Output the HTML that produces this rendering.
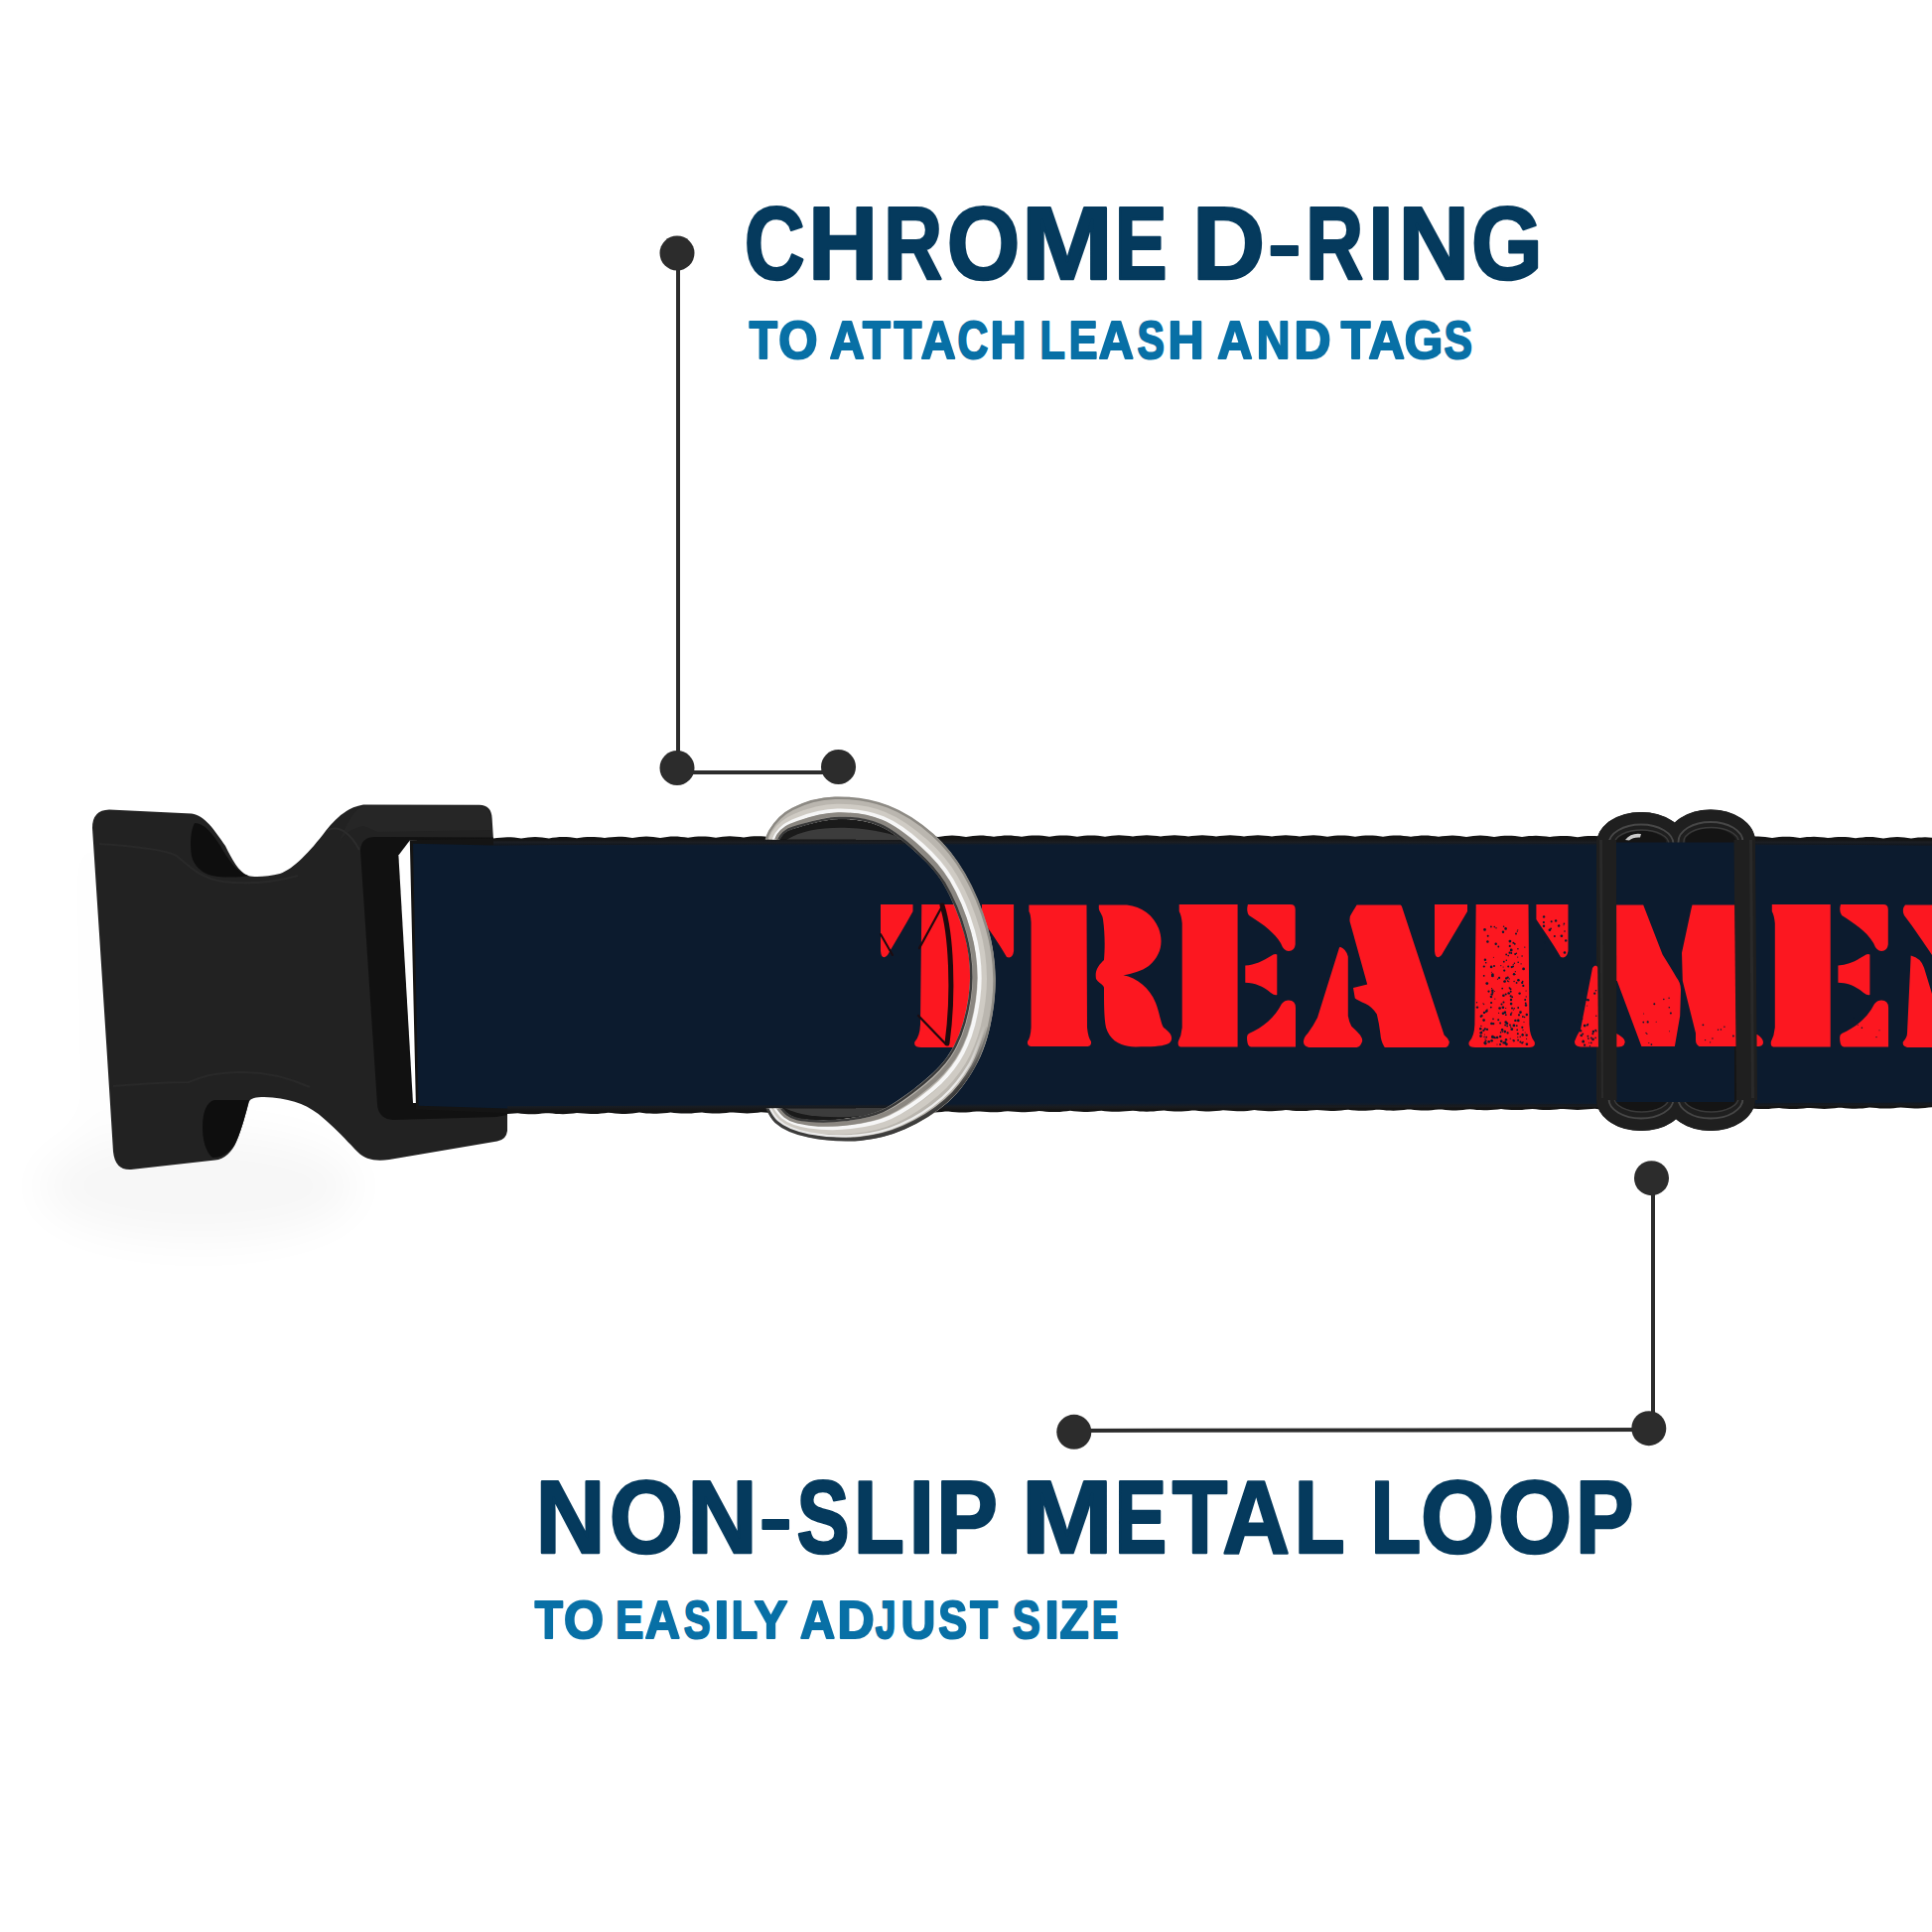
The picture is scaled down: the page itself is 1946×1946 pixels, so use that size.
<!DOCTYPE html>
<html>
<head>
<meta charset="utf-8">
<style>
html,body{margin:0;padding:0;background:#ffffff;}
body{width:1946px;height:1946px;overflow:hidden;position:relative;}
svg{position:absolute;left:0;top:0;display:block;}
</style>
</head>
<body>
<svg width="1946" height="1946" viewBox="0 0 1946 1946">
<!-- SHADOW -->
<defs>
  <filter id="blur18" x="-60%" y="-60%" width="220%" height="220%"><feGaussianBlur stdDeviation="22"/></filter>
</defs>
<g filter="url(#blur18)" opacity="0.035">
  <ellipse cx="200" cy="1195" rx="160" ry="55" fill="#000"/>
  <path d="M 85 840 L 100 840 L 115 1170 L 95 1170 Z" fill="#000" opacity="0.5"/>
</g>
<!-- BUCKLE -->
<g id="buckle">
  <path fill="#222222" d="M 93 834 Q 93 816 110 815.6 L 193 819.5 C 206 821 216 836 227 852 C 234 866 240 878 250 882 C 256 884 270 883 282 880 C 296 875 312 858 328 837 C 338 824 350 813 366 810.5 L 483 810.7 Q 495 811 495.6 824 L 497 846 L 511 1122 L 511 1139 Q 510 1148 500.8 1149.4 L 392 1168 C 378 1170 368 1168 360 1160 C 350 1150 338 1136 320.7 1122 C 306 1111 290 1106 266 1105 C 258 1105 252 1106 250.8 1110 C 248 1120 244 1136 238 1150 C 234 1160 226 1168 216.6 1168.6 L 132 1178 Q 116 1179 114 1160 Q 104 1000 93 834 Z"/>
  <!-- subtle lighter ridge on top bar -->
  <path fill="#282828" d="M 366 812 L 483 812 Q 493 813 494 824 L 495 836 L 380 838 Q 372 834 366 832 C 352 835 345 842 340 850 C 350 830 356 815 366 812 Z" opacity="0.7"/>
  <path d="M 100 850 C 130 852 165 855 178 862 C 190 872 200 884 225 888 C 250 891 275 889 300 882" fill="none" stroke="#292929" stroke-width="2"/>
  <path d="M 114 1094 C 140 1092 175 1090 190 1090 C 200 1086 210 1081 240 1080 C 265 1079 290 1085 312 1095" fill="none" stroke="#292929" stroke-width="2"/>
  <path d="M 330 836 C 345 830 356 845 362 856" fill="none" stroke="#2c2c2c" stroke-width="2"/>
  <!-- top hole -->
  <path fill="#0e0e0e" d="M 196 829 C 206 829 214 840 222 852 C 230 866 238 878 250 882 C 240 884 225 884 214 882 C 204 880 195 872 193 862 C 191 850 192 836 196 829 Z"/>
  <!-- bottom hole -->
  <path fill="#0e0e0e" d="M 250.8 1108 C 248 1120 244 1136 238 1150 C 234 1158 226 1166 214 1166 C 207 1160 204 1148 204 1135 C 204 1120 208 1110 216 1108 Z"/>
  <!-- inner frame dark -->
  <path fill="#111111" d="M 363 856 Q 364 843 378 843 L 497 843.5 L 511 1123 L 500 1125 L 396 1128 Q 381 1127 380 1112 Z"/>
  <!-- slit (background) -->
  <path fill="#ffffff" d="M 401.4 861.4 L 412.8 846.4 L 420 846.4 L 422 1111 L 416 1111 Z"/>
</g>
<!-- STRAP -->
<defs>
  <linearGradient id="gtop" x1="0" y1="0" x2="0" y2="1">
    <stop offset="0" stop-color="#141414" stop-opacity="1"/>
    <stop offset="0.45" stop-color="#1c1f24" stop-opacity="0.9"/>
    <stop offset="1" stop-color="#0c1b2e" stop-opacity="0"/>
  </linearGradient>
  <linearGradient id="gbot" x1="0" y1="0" x2="0" y2="1">
    <stop offset="0" stop-color="#0c1b2e" stop-opacity="0"/>
    <stop offset="0.55" stop-color="#1a1d22" stop-opacity="0.9"/>
    <stop offset="1" stop-color="#141414" stop-opacity="1"/>
  </linearGradient>
</defs>
<g id="strap">
  <path fill="#141414" d="M 412.8 846.2 L 497 844.6 L 497.0 844.6 L 500.5 844.1 L 504.0 843.7 L 507.5 843.4 L 511.0 843.2 L 514.5 843.3 L 518.0 843.6 L 521.5 844.0 L 525.0 844.5 L 528.5 844.0 L 532.0 843.5 L 535.5 843.2 L 539.0 843.1 L 542.5 843.2 L 546.0 843.5 L 549.5 843.9 L 553.0 844.4 L 556.5 843.8 L 560.0 843.4 L 563.5 843.1 L 567.0 843.0 L 570.5 843.1 L 574.0 843.3 L 577.5 843.8 L 581.0 844.2 L 584.5 843.7 L 588.0 843.3 L 591.5 843.0 L 595.0 842.9 L 598.5 843.0 L 602.0 843.2 L 605.5 843.6 L 609.0 844.1 L 612.5 843.6 L 616.0 843.2 L 619.5 842.9 L 623.0 842.8 L 626.5 842.8 L 630.0 843.1 L 633.5 843.5 L 637.0 844.0 L 640.5 843.5 L 644.0 843.1 L 647.5 842.8 L 651.0 842.6 L 654.5 842.7 L 658.0 843.0 L 661.5 843.4 L 665.0 843.9 L 668.5 843.4 L 672.0 842.9 L 675.5 842.6 L 679.0 842.5 L 682.5 842.6 L 686.0 842.9 L 689.5 843.3 L 693.0 843.8 L 696.5 843.3 L 700.0 842.8 L 703.5 842.5 L 707.0 842.4 L 710.5 842.5 L 714.0 842.8 L 717.5 843.2 L 721.0 843.7 L 724.5 843.2 L 728.0 842.7 L 731.5 842.4 L 735.0 842.3 L 738.5 842.4 L 742.0 842.7 L 745.5 843.1 L 749.0 843.6 L 752.5 843.1 L 756.0 842.6 L 759.5 842.3 L 763.0 842.2 L 766.5 842.3 L 770.0 842.6 L 773.5 843.0 L 777.0 843.5 L 780.5 842.9 L 784.0 842.5 L 787.5 842.2 L 791.0 842.1 L 794.5 842.2 L 798.0 842.5 L 801.5 842.9 L 805.0 843.4 L 808.5 842.9 L 812.0 842.4 L 815.5 842.1 L 819.0 842.0 L 822.5 842.1 L 826.0 842.4 L 829.5 842.8 L 833.0 843.3 L 836.5 842.8 L 840.0 842.3 L 843.5 842.0 L 847.0 841.9 L 850.5 842.0 L 854.0 842.3 L 857.5 842.7 L 861.0 843.2 L 864.5 842.7 L 868.0 842.2 L 871.5 841.9 L 875.0 841.8 L 878.5 841.9 L 882.0 842.2 L 885.5 842.6 L 889.0 843.1 L 892.5 842.6 L 896.0 842.2 L 899.5 841.9 L 903.0 841.8 L 906.5 841.8 L 910.0 842.1 L 913.5 842.5 L 917.0 843.0 L 920.5 842.5 L 924.0 842.1 L 927.5 841.8 L 931.0 841.7 L 934.5 841.8 L 938.0 842.0 L 941.5 842.5 L 945.0 842.9 L 948.5 842.4 L 952.0 842.0 L 955.5 841.7 L 959.0 841.6 L 962.5 841.7 L 966.0 842.0 L 969.5 842.4 L 973.0 842.9 L 976.5 842.4 L 980.0 841.9 L 983.5 841.7 L 987.0 841.6 L 990.5 841.6 L 994.0 841.9 L 997.5 842.3 L 1001.0 842.8 L 1004.5 842.3 L 1008.0 841.9 L 1011.5 841.6 L 1015.0 841.5 L 1018.5 841.6 L 1022.0 841.9 L 1025.5 842.3 L 1029.0 842.8 L 1032.5 842.3 L 1036.0 841.8 L 1039.5 841.6 L 1043.0 841.4 L 1046.5 841.5 L 1050.0 841.8 L 1053.5 842.2 L 1057.0 842.7 L 1060.5 842.2 L 1064.0 841.8 L 1067.5 841.5 L 1071.0 841.4 L 1074.5 841.5 L 1078.0 841.8 L 1081.5 842.2 L 1085.0 842.7 L 1088.5 842.2 L 1092.0 841.8 L 1095.5 841.5 L 1099.0 841.4 L 1102.5 841.5 L 1106.0 841.7 L 1109.5 842.2 L 1113.0 842.7 L 1116.5 842.2 L 1120.0 841.7 L 1123.5 841.4 L 1127.0 841.3 L 1130.5 841.4 L 1134.0 841.7 L 1137.5 842.1 L 1141.0 842.6 L 1144.5 842.1 L 1148.0 841.7 L 1151.5 841.4 L 1155.0 841.3 L 1158.5 841.4 L 1162.0 841.7 L 1165.5 842.1 L 1169.0 842.6 L 1172.5 842.1 L 1176.0 841.7 L 1179.5 841.4 L 1183.0 841.3 L 1186.5 841.4 L 1190.0 841.7 L 1193.5 842.1 L 1197.0 842.6 L 1200.5 842.1 L 1204.0 841.7 L 1207.5 841.4 L 1211.0 841.3 L 1214.5 841.4 L 1218.0 841.7 L 1221.5 842.1 L 1225.0 842.6 L 1228.5 842.1 L 1232.0 841.7 L 1235.5 841.4 L 1239.0 841.3 L 1242.5 841.4 L 1246.0 841.7 L 1249.5 842.1 L 1253.0 842.6 L 1256.5 842.1 L 1260.0 841.7 L 1263.5 841.4 L 1267.0 841.3 L 1270.5 841.4 L 1274.0 841.7 L 1277.5 842.1 L 1281.0 842.6 L 1284.5 842.1 L 1288.0 841.7 L 1291.5 841.4 L 1295.0 841.3 L 1298.5 841.4 L 1302.0 841.7 L 1305.5 842.1 L 1309.0 842.6 L 1312.5 842.1 L 1316.0 841.7 L 1319.5 841.4 L 1323.0 841.3 L 1326.5 841.5 L 1330.0 841.7 L 1333.5 842.2 L 1337.0 842.7 L 1340.5 842.2 L 1344.0 841.8 L 1347.5 841.5 L 1351.0 841.4 L 1354.5 841.5 L 1358.0 841.8 L 1361.5 842.2 L 1365.0 842.7 L 1368.5 842.2 L 1372.0 841.8 L 1375.5 841.5 L 1379.0 841.4 L 1382.5 841.5 L 1386.0 841.8 L 1389.5 842.2 L 1393.0 842.7 L 1396.5 842.2 L 1400.0 841.8 L 1403.5 841.6 L 1407.0 841.5 L 1410.5 841.6 L 1414.0 841.9 L 1417.5 842.3 L 1421.0 842.8 L 1424.5 842.3 L 1428.0 841.9 L 1431.5 841.6 L 1435.0 841.5 L 1438.5 841.6 L 1442.0 841.9 L 1445.5 842.3 L 1449.0 842.8 L 1452.5 842.3 L 1456.0 841.9 L 1459.5 841.7 L 1463.0 841.6 L 1466.5 841.7 L 1470.0 842.0 L 1473.5 842.4 L 1477.0 842.9 L 1480.5 842.4 L 1484.0 842.0 L 1487.5 841.7 L 1491.0 841.6 L 1494.5 841.7 L 1498.0 842.0 L 1501.5 842.5 L 1505.0 843.0 L 1508.5 842.5 L 1512.0 842.1 L 1515.5 841.8 L 1519.0 841.7 L 1522.5 841.8 L 1526.0 842.1 L 1529.5 842.5 L 1533.0 843.0 L 1536.5 842.6 L 1540.0 842.1 L 1543.5 841.9 L 1547.0 841.8 L 1550.5 841.9 L 1554.0 842.2 L 1557.5 842.6 L 1561.0 843.1 L 1564.5 842.6 L 1568.0 842.2 L 1571.5 841.9 L 1575.0 841.9 L 1578.5 842.0 L 1582.0 842.3 L 1585.5 842.7 L 1589.0 843.2 L 1592.5 842.7 L 1596.0 842.3 L 1599.5 842.0 L 1603.0 841.9 L 1606.5 842.1 L 1610.0 842.3 L 1613.5 842.8 L 1617.0 843.3 L 1620.5 842.8 L 1624.0 842.4 L 1627.5 842.1 L 1631.0 842.0 L 1634.5 842.1 L 1638.0 842.4 L 1641.5 842.9 L 1645.0 843.4 L 1648.5 842.9 L 1652.0 842.5 L 1655.5 842.2 L 1659.0 842.1 L 1662.5 842.2 L 1666.0 842.5 L 1669.5 843.0 L 1673.0 843.5 L 1676.5 843.0 L 1680.0 842.6 L 1683.5 842.3 L 1687.0 842.2 L 1690.5 842.3 L 1694.0 842.6 L 1697.5 843.1 L 1701.0 843.6 L 1704.5 843.1 L 1708.0 842.7 L 1711.5 842.4 L 1715.0 842.3 L 1718.5 842.5 L 1722.0 842.7 L 1725.5 843.2 L 1729.0 843.7 L 1732.5 843.2 L 1736.0 842.8 L 1739.5 842.5 L 1743.0 842.4 L 1746.5 842.6 L 1750.0 842.9 L 1753.5 843.3 L 1757.0 843.8 L 1760.5 843.3 L 1764.0 842.9 L 1767.5 842.6 L 1771.0 842.6 L 1774.5 842.7 L 1778.0 843.0 L 1781.5 843.4 L 1785.0 843.9 L 1788.5 843.4 L 1792.0 843.0 L 1795.5 842.8 L 1799.0 842.7 L 1802.5 842.8 L 1806.0 843.1 L 1809.5 843.5 L 1813.0 844.0 L 1816.5 843.5 L 1820.0 843.1 L 1823.5 842.9 L 1827.0 842.8 L 1830.5 842.9 L 1834.0 843.2 L 1837.5 843.6 L 1841.0 844.1 L 1844.5 843.7 L 1848.0 843.3 L 1851.5 843.0 L 1855.0 842.9 L 1858.5 843.0 L 1862.0 843.3 L 1865.5 843.8 L 1869.0 844.3 L 1872.5 843.8 L 1876.0 843.4 L 1879.5 843.1 L 1883.0 843.0 L 1886.5 843.1 L 1890.0 843.4 L 1893.5 843.9 L 1897.0 844.4 L 1900.5 843.9 L 1904.0 843.5 L 1907.5 843.2 L 1911.0 843.1 L 1914.5 843.3 L 1918.0 843.6 L 1921.5 844.0 L 1925.0 844.5 L 1928.5 844.0 L 1932.0 843.6 L 1935.5 843.4 L 1939.0 843.3 L 1942.5 843.4 L 1946.0 843.7 L 1946.0 844.6 L 1946.0 1115.2 L 1942.5 1115.6 L 1939.0 1116.0 L 1935.5 1116.3 L 1932.0 1116.4 L 1928.5 1116.4 L 1925.0 1116.3 L 1921.5 1116.0 L 1918.0 1115.7 L 1914.5 1115.4 L 1911.0 1115.8 L 1907.5 1116.2 L 1904.0 1116.5 L 1900.5 1116.6 L 1897.0 1116.6 L 1893.5 1116.4 L 1890.0 1116.1 L 1886.5 1115.7 L 1883.0 1115.6 L 1879.5 1116.0 L 1876.0 1116.4 L 1872.5 1116.6 L 1869.0 1116.7 L 1865.5 1116.7 L 1862.0 1116.5 L 1858.5 1116.2 L 1855.0 1115.8 L 1851.5 1115.8 L 1848.0 1116.2 L 1844.5 1116.5 L 1841.0 1116.8 L 1837.5 1116.9 L 1834.0 1116.8 L 1830.5 1116.6 L 1827.0 1116.3 L 1823.5 1115.9 L 1820.0 1116.0 L 1816.5 1116.4 L 1813.0 1116.7 L 1809.5 1116.9 L 1806.0 1117.0 L 1802.5 1116.9 L 1799.0 1116.7 L 1795.5 1116.4 L 1792.0 1116.0 L 1788.5 1116.2 L 1785.0 1116.6 L 1781.5 1116.9 L 1778.0 1117.1 L 1774.5 1117.1 L 1771.0 1117.0 L 1767.5 1116.8 L 1764.0 1116.4 L 1760.5 1116.0 L 1757.0 1116.3 L 1753.5 1116.7 L 1750.0 1117.0 L 1746.5 1117.2 L 1743.0 1117.2 L 1739.5 1117.1 L 1736.0 1116.9 L 1732.5 1116.5 L 1729.0 1116.1 L 1725.5 1116.5 L 1722.0 1116.9 L 1718.5 1117.2 L 1715.0 1117.4 L 1711.5 1117.4 L 1708.0 1117.2 L 1704.5 1116.9 L 1701.0 1116.6 L 1697.5 1116.3 L 1694.0 1116.7 L 1690.5 1117.1 L 1687.0 1117.4 L 1683.5 1117.5 L 1680.0 1117.5 L 1676.5 1117.3 L 1673.0 1117.0 L 1669.5 1116.7 L 1666.0 1116.5 L 1662.5 1116.9 L 1659.0 1117.3 L 1655.5 1117.5 L 1652.0 1117.6 L 1648.5 1117.6 L 1645.0 1117.4 L 1641.5 1117.1 L 1638.0 1116.7 L 1634.5 1116.7 L 1631.0 1117.1 L 1627.5 1117.4 L 1624.0 1117.7 L 1620.5 1117.8 L 1617.0 1117.7 L 1613.5 1117.5 L 1610.0 1117.2 L 1606.5 1116.8 L 1603.0 1116.9 L 1599.5 1117.3 L 1596.0 1117.6 L 1592.5 1117.8 L 1589.0 1117.9 L 1585.5 1117.8 L 1582.0 1117.6 L 1578.5 1117.3 L 1575.0 1116.9 L 1571.5 1117.1 L 1568.0 1117.5 L 1564.5 1117.8 L 1561.0 1118.0 L 1557.5 1118.0 L 1554.0 1117.9 L 1550.5 1117.7 L 1547.0 1117.3 L 1543.5 1116.9 L 1540.0 1117.3 L 1536.5 1117.6 L 1533.0 1117.9 L 1529.5 1118.1 L 1526.0 1118.1 L 1522.5 1118.0 L 1519.0 1117.8 L 1515.5 1117.4 L 1512.0 1117.0 L 1508.5 1117.4 L 1505.0 1117.8 L 1501.5 1118.1 L 1498.0 1118.3 L 1494.5 1118.3 L 1491.0 1118.1 L 1487.5 1117.9 L 1484.0 1117.5 L 1480.5 1117.2 L 1477.0 1117.6 L 1473.5 1118.0 L 1470.0 1118.3 L 1466.5 1118.4 L 1463.0 1118.4 L 1459.5 1118.2 L 1456.0 1117.9 L 1452.5 1117.6 L 1449.0 1117.4 L 1445.5 1117.8 L 1442.0 1118.2 L 1438.5 1118.4 L 1435.0 1118.5 L 1431.5 1118.5 L 1428.0 1118.3 L 1424.5 1118.0 L 1421.0 1117.6 L 1417.5 1117.6 L 1414.0 1118.0 L 1410.5 1118.3 L 1407.0 1118.6 L 1403.5 1118.7 L 1400.0 1118.6 L 1396.5 1118.4 L 1393.0 1118.1 L 1389.5 1117.7 L 1386.0 1117.8 L 1382.5 1118.2 L 1379.0 1118.5 L 1375.5 1118.7 L 1372.0 1118.8 L 1368.5 1118.7 L 1365.0 1118.5 L 1361.5 1118.2 L 1358.0 1117.8 L 1354.5 1118.0 L 1351.0 1118.4 L 1347.5 1118.7 L 1344.0 1118.9 L 1340.5 1118.9 L 1337.0 1118.8 L 1333.5 1118.6 L 1330.0 1118.2 L 1326.5 1117.9 L 1323.0 1118.2 L 1319.5 1118.6 L 1316.0 1118.9 L 1312.5 1119.0 L 1309.0 1119.0 L 1305.5 1118.9 L 1302.0 1118.7 L 1298.5 1118.3 L 1295.0 1117.9 L 1291.5 1118.4 L 1288.0 1118.7 L 1284.5 1119.0 L 1281.0 1119.2 L 1277.5 1119.2 L 1274.0 1119.0 L 1270.5 1118.8 L 1267.0 1118.4 L 1263.5 1118.1 L 1260.0 1118.5 L 1256.5 1118.9 L 1253.0 1119.2 L 1249.5 1119.3 L 1246.0 1119.3 L 1242.5 1119.1 L 1239.0 1118.8 L 1235.5 1118.5 L 1232.0 1118.3 L 1228.5 1118.7 L 1225.0 1119.1 L 1221.5 1119.3 L 1218.0 1119.4 L 1214.5 1119.4 L 1211.0 1119.2 L 1207.5 1118.9 L 1204.0 1118.5 L 1200.5 1118.5 L 1197.0 1118.9 L 1193.5 1119.3 L 1190.0 1119.5 L 1186.5 1119.6 L 1183.0 1119.5 L 1179.5 1119.3 L 1176.0 1119.0 L 1172.5 1118.6 L 1169.0 1118.7 L 1165.5 1119.1 L 1162.0 1119.4 L 1158.5 1119.6 L 1155.0 1119.7 L 1151.5 1119.6 L 1148.0 1119.4 L 1144.5 1119.1 L 1141.0 1118.7 L 1137.5 1118.9 L 1134.0 1119.3 L 1130.5 1119.6 L 1127.0 1119.8 L 1123.5 1119.8 L 1120.0 1119.7 L 1116.5 1119.5 L 1113.0 1119.2 L 1109.5 1118.8 L 1106.0 1119.1 L 1102.5 1119.5 L 1099.0 1119.8 L 1095.5 1119.9 L 1092.0 1120.0 L 1088.5 1119.8 L 1085.0 1119.6 L 1081.5 1119.2 L 1078.0 1118.8 L 1074.5 1119.3 L 1071.0 1119.6 L 1067.5 1119.9 L 1064.0 1120.1 L 1060.5 1120.1 L 1057.0 1119.9 L 1053.5 1119.7 L 1050.0 1119.3 L 1046.5 1119.0 L 1043.0 1119.4 L 1039.5 1119.8 L 1036.0 1120.1 L 1032.5 1120.2 L 1029.0 1120.2 L 1025.5 1120.0 L 1022.0 1119.7 L 1018.5 1119.4 L 1015.0 1119.2 L 1011.5 1119.6 L 1008.0 1120.0 L 1004.5 1120.2 L 1001.0 1120.3 L 997.5 1120.3 L 994.0 1120.1 L 990.5 1119.8 L 987.0 1119.5 L 983.5 1119.4 L 980.0 1119.8 L 976.5 1120.2 L 973.0 1120.4 L 969.5 1120.5 L 966.0 1120.4 L 962.5 1120.2 L 959.0 1119.9 L 955.5 1119.5 L 952.0 1119.6 L 948.5 1120.0 L 945.0 1120.3 L 941.5 1120.5 L 938.0 1120.6 L 934.5 1120.5 L 931.0 1120.3 L 927.5 1120.0 L 924.0 1119.6 L 920.5 1119.8 L 917.0 1120.2 L 913.5 1120.5 L 910.0 1120.7 L 906.5 1120.7 L 903.0 1120.6 L 899.5 1120.4 L 896.0 1120.1 L 892.5 1119.7 L 889.0 1120.0 L 885.5 1120.4 L 882.0 1120.7 L 878.5 1120.8 L 875.0 1120.9 L 871.5 1120.7 L 868.0 1120.5 L 864.5 1120.1 L 861.0 1119.7 L 857.5 1120.2 L 854.0 1120.5 L 850.5 1120.8 L 847.0 1121.0 L 843.5 1121.0 L 840.0 1120.8 L 836.5 1120.6 L 833.0 1120.2 L 829.5 1119.9 L 826.0 1120.4 L 822.5 1120.7 L 819.0 1121.0 L 815.5 1121.1 L 812.0 1121.1 L 808.5 1120.9 L 805.0 1120.7 L 801.5 1120.3 L 798.0 1120.1 L 794.5 1120.5 L 791.0 1120.9 L 787.5 1121.1 L 784.0 1121.3 L 780.5 1121.2 L 777.0 1121.0 L 773.5 1120.7 L 770.0 1120.4 L 766.5 1120.3 L 763.0 1120.7 L 759.5 1121.1 L 756.0 1121.3 L 752.5 1121.4 L 749.0 1121.3 L 745.5 1121.1 L 742.0 1120.8 L 738.5 1120.4 L 735.0 1120.5 L 731.5 1120.9 L 728.0 1121.2 L 724.5 1121.5 L 721.0 1121.5 L 717.5 1121.4 L 714.0 1121.2 L 710.5 1120.9 L 707.0 1120.5 L 703.5 1120.7 L 700.0 1121.1 L 696.5 1121.4 L 693.0 1121.6 L 689.5 1121.6 L 686.0 1121.5 L 682.5 1121.3 L 679.0 1121.0 L 675.5 1120.6 L 672.0 1120.9 L 668.5 1121.3 L 665.0 1121.6 L 661.5 1121.7 L 658.0 1121.8 L 654.5 1121.6 L 651.0 1121.4 L 647.5 1121.0 L 644.0 1120.6 L 640.5 1121.1 L 637.0 1121.5 L 633.5 1121.7 L 630.0 1121.9 L 626.5 1121.9 L 623.0 1121.8 L 619.5 1121.5 L 616.0 1121.1 L 612.5 1120.8 L 609.0 1121.3 L 605.5 1121.6 L 602.0 1121.9 L 598.5 1122.0 L 595.0 1122.0 L 591.5 1121.8 L 588.0 1121.6 L 584.5 1121.2 L 581.0 1121.0 L 577.5 1121.5 L 574.0 1121.8 L 570.5 1122.1 L 567.0 1122.2 L 563.5 1122.1 L 560.0 1121.9 L 556.5 1121.6 L 553.0 1121.3 L 549.5 1121.2 L 546.0 1121.6 L 542.5 1122.0 L 539.0 1122.2 L 535.5 1122.3 L 532.0 1122.2 L 528.5 1122.0 L 525.0 1121.7 L 521.5 1121.3 L 518.0 1121.4 L 514.5 1121.8 L 511.0 1122.1 L 511.0 1121.2 L 419 1117.5 Z"/>
  <path fill="#0c1b2e" d="M 416 849.8 L 497.0 851.4 L 557.0 851.1 L 617.0 850.9 L 677.0 850.6 L 737.0 850.4 L 797.0 850.2 L 857.0 850.0 L 917.0 849.8 L 977.0 849.7 L 1037.0 849.6 L 1097.0 849.5 L 1157.0 849.4 L 1217.0 849.4 L 1277.0 849.4 L 1337.0 849.5 L 1397.0 849.5 L 1457.0 849.7 L 1517.0 849.8 L 1577.0 850.0 L 1637.0 850.2 L 1697.0 850.4 L 1757.0 850.6 L 1817.0 850.8 L 1877.0 851.1 L 1937.0 851.4 L 1946 851.4 L 1946.0 1110.6 L 1886.0 1110.9 L 1826.0 1111.1 L 1766.0 1111.4 L 1706.0 1111.6 L 1646.0 1111.9 L 1586.0 1112.1 L 1526.0 1112.4 L 1466.0 1112.6 L 1406.0 1112.9 L 1346.0 1113.1 L 1286.0 1113.4 L 1226.0 1113.6 L 1166.0 1113.9 L 1106.0 1114.1 L 1046.0 1114.4 L 986.0 1114.6 L 926.0 1114.9 L 866.0 1115.1 L 806.0 1115.4 L 746.0 1115.6 L 686.0 1115.9 L 626.0 1116.1 L 566.0 1116.4 L 511 1116.6 L 421.5 1113.8 Z"/>
  <path fill="url(#gtop)" d="M 497.0 846.8 L 557.0 846.5 L 617.0 846.3 L 677.0 846.0 L 737.0 845.8 L 797.0 845.6 L 857.0 845.4 L 917.0 845.2 L 977.0 845.1 L 1037.0 845.0 L 1097.0 844.9 L 1157.0 844.8 L 1217.0 844.8 L 1277.0 844.8 L 1337.0 844.9 L 1397.0 844.9 L 1457.0 845.1 L 1517.0 845.2 L 1577.0 845.4 L 1637.0 845.6 L 1697.0 845.8 L 1757.0 846.0 L 1817.0 846.2 L 1877.0 846.5 L 1937.0 846.8 L 1946.0 846.8 L 1946.0 853.1 L 1886.0 852.8 L 1826.0 852.6 L 1766.0 852.3 L 1706.0 852.1 L 1646.0 851.9 L 1586.0 851.7 L 1526.0 851.5 L 1466.0 851.4 L 1406.0 851.3 L 1346.0 851.2 L 1286.0 851.1 L 1226.0 851.1 L 1166.0 851.1 L 1106.0 851.2 L 1046.0 851.2 L 986.0 851.4 L 926.0 851.5 L 866.0 851.7 L 806.0 851.9 L 746.0 852.1 L 686.0 852.3 L 626.0 852.5 L 566.0 852.8 L 506.0 853.1 L 497.0 853.1 Z"/>
  <path fill="url(#gbot)" d="M 511.0 1114.2 L 571.0 1113.9 L 631.0 1113.7 L 691.0 1113.4 L 751.0 1113.2 L 811.0 1112.9 L 871.0 1112.7 L 931.0 1112.4 L 991.0 1112.2 L 1051.0 1111.9 L 1111.0 1111.7 L 1171.0 1111.4 L 1231.0 1111.2 L 1291.0 1110.9 L 1351.0 1110.7 L 1411.0 1110.4 L 1471.0 1110.2 L 1531.0 1109.9 L 1591.0 1109.7 L 1651.0 1109.4 L 1711.0 1109.2 L 1771.0 1108.9 L 1831.0 1108.7 L 1891.0 1108.4 L 1946.0 1108.2 L 1946.0 1113.4 L 1886.0 1113.7 L 1826.0 1113.9 L 1766.0 1114.2 L 1706.0 1114.4 L 1646.0 1114.7 L 1586.0 1114.9 L 1526.0 1115.2 L 1466.0 1115.4 L 1406.0 1115.7 L 1346.0 1115.9 L 1286.0 1116.2 L 1226.0 1116.4 L 1166.0 1116.7 L 1106.0 1116.9 L 1046.0 1117.2 L 986.0 1117.4 L 926.0 1117.7 L 866.0 1117.9 L 806.0 1118.2 L 746.0 1118.4 L 686.0 1118.7 L 626.0 1118.9 L 566.0 1119.2 L 511.0 1119.4 Z"/>
</g>
<!-- LOOP BACK (humps) -->
<g id="loopback">
  <rect x="1608" y="818" width="90" height="321" rx="45" ry="32" fill="#141414"/>
  <rect x="1678" y="815.5" width="90" height="323.5" rx="45" ry="32.5" fill="#141414"/>
  <rect x="1617.5" y="827.5" width="71" height="302" rx="35.5" ry="22.5" fill="none" stroke="#1f1f1f" stroke-width="19"/>
  <rect x="1687.5" y="825" width="71" height="304.5" rx="35.5" ry="23" fill="none" stroke="#1f1f1f" stroke-width="19"/>
  <rect x="1620.5" y="830.5" width="65" height="296" rx="32.5" ry="19.5" fill="none" stroke="#474747" stroke-width="1.8"/>
  <rect x="1690.5" y="828" width="65" height="298.5" rx="32.5" ry="20" fill="none" stroke="#474747" stroke-width="1.8"/>
  <rect x="1626" y="836" width="55" height="284" rx="27.5" ry="14" fill="none" stroke="#3a3a3a" stroke-width="1.4"/>
  <rect x="1696" y="833.5" width="55" height="286.5" rx="27.5" ry="14" fill="none" stroke="#3a3a3a" stroke-width="1.4"/>
  <path d="M 1628 848.5 L 1747 848.5 L 1747 1110 L 1628 1110 Z" fill="#0c1b2e"/>
  <path d="M 1637 846 Q 1643 838.5 1653 840 L 1652 843.5 Q 1645 843 1641 846.5 Z" fill="#c9c9c9"/>
</g>
<!-- LETTERS -->
<g id="letters" fill="#fc1720">
  <!-- T1 -->
  <path d="M 887 911 L 919.5 911 L 919.5 918 C 912 932 902 948 894 962 Q 888 968 887 958 Z"/>
  <path d="M 928.3 911 L 981.1 911 L 982 1032 Q 983 1044 987.3 1049.6 Q 989 1055 982 1055 L 928 1055 Q 920 1055 921.3 1049.6 Q 926.5 1044 927 1032 Z"/>
  <path d="M 989 911 L 1021.1 911 L 1021.1 958 Q 1020 966 1014 964 C 1006 950 996 936 989 926 Z"/>
  <!-- R -->
  <path d="M 1036.4 911.4 L 1094.5 911.4 L 1095 1035 Q 1096 1045 1099 1049 Q 1100 1054 1094 1054 L 1040 1054 Q 1034 1054 1035 1049 Q 1038 1045 1038.6 1035 L 1038.6 929 Q 1038 920 1036.4 918 Z"/>
  <path d="M 1106.8 911.4 L 1135 911.4 C 1150 913 1162 922 1167 935 C 1172 948 1170 962 1157 973 C 1150 978 1140 981 1131.5 982.3 C 1145 985 1158 995 1164 1010 C 1168 1020 1169 1030 1172 1035 C 1176 1038 1181 1042 1180 1047 C 1179 1053 1170 1054.4 1143.8 1054.4 C 1128 1054 1118 1048 1114 1035 C 1112 1025 1112 1010 1112 995 C 1112 992 1106 990 1104 986 C 1103 980 1104 974 1112 967 C 1113 955 1113 940 1111 926 C 1110 920 1107 918 1106.8 915 Z"/>
  <!-- E1 -->
  <g id="E1">
  <path d="M 1187.7 911.1 L 1246.6 911.1 L 1246.6 1054.6 L 1189 1054.6 Q 1186 1054 1186.8 1049 Q 1190 1043 1190.7 1035 L 1190.7 930 Q 1190 922 1187.7 918 Z"/>
  <path d="M 1256.9 911.1 L 1300 911.1 Q 1304.7 911.1 1304.7 916 L 1304.7 951.3 Q 1304 958 1298 958 Q 1293 958 1290 950 C 1284 940 1274 932 1258 922 Q 1255 918 1256.9 911.1 Z"/>
  <path d="M 1286.3 961.5 L 1286.3 1002 Q 1284 1003 1280 1000 C 1272 993 1264 990 1254.3 989.7 L 1254.3 972.6 C 1264 972 1272 968 1280 963 Q 1284 960 1286.3 961.5 Z"/>
  <path d="M 1298 1007.6 Q 1305 1008 1305 1015 L 1305 1054.6 L 1260 1054.6 Q 1256 1054 1256 1045 Q 1256 1042 1258 1041 C 1272 1035 1284 1025 1291 1011 Q 1294 1007.6 1298 1007.6 Z"/>
  </g>
  <!-- A -->
  <path d="M 1349.9 953.7 Q 1356 956 1357.8 963.4 L 1357.8 1023.2 Q 1359 1030 1361.3 1033.7 Q 1366 1038 1370 1042.5 Q 1373 1047 1371.9 1049.6 Q 1370 1054.9 1366.6 1054.9 L 1318.2 1054.9 Q 1313 1054 1312.9 1049.6 Q 1313 1045 1317.3 1040.8 Q 1323 1033 1327 1025 L 1349 954.6 Z"/>
  <path d="M 1366.6 911.4 L 1410.6 911.4 Q 1412 912 1412.3 914 L 1454.6 1042.5 Q 1459 1046 1459.9 1049.6 Q 1459 1054.9 1456.3 1054.9 L 1394.8 1054.9 Q 1391 1050 1390.3 1040.8 Q 1389 1030 1386.8 1021.4 Q 1382 1014 1375.4 1010.9 Q 1368 1008 1364.8 1005.6 L 1363 995 L 1377.2 991.5 L 1359.6 928.2 Q 1359 923 1361.3 920.2 Z"/>
  <!-- T2 -->
  <path d="M 1445 911 L 1478 911 L 1478 918 C 1470 932 1460 948 1452 962 Q 1446 968 1445 958 Z"/>
  <path d="M 1486.7 911 L 1539.5 911 L 1540.4 1032 Q 1541 1044 1545.7 1049.6 Q 1547 1055 1540 1055 L 1486 1055 Q 1478 1055 1479.7 1049.6 Q 1485 1044 1485.4 1032 Z"/>
  <path d="M 1547.4 911 L 1579.5 911 L 1579.5 958 Q 1578 966 1572 964 C 1564 950 1554 936 1547.4 926 Z"/>
  <!-- M -->
  <path d="M 1604 975 Q 1607 970 1610 975 L 1612 1025 Q 1614 1035 1630 1042 Q 1637 1046 1636.7 1050 Q 1636 1054.5 1630 1054.5 L 1592 1054.5 Q 1586 1054 1586 1049 Q 1588 1043 1592 1037 Z"/>
  <path d="M 1625 911.4 L 1655.2 911.4 L 1674.6 961.6 Q 1683 975 1688.6 984.5 Q 1693 990 1693 996.8 L 1692.2 1023.2 L 1686.9 1054 L 1653.4 1054 L 1628.8 988 L 1625 988 Z"/>
  <path d="M 1704.5 911.4 L 1747.6 911.4 L 1749 1035 Q 1752 1042 1770 1042 Q 1776 1046 1776 1050 Q 1776 1054 1770 1054 L 1711.5 1054 Q 1708 1052 1708 1047.8 L 1708 1040.8 L 1694.8 988 L 1694 959.8 L 1703.6 915 Z"/>
  <!-- E2 -->
  <use href="#E1" x="597.1" y="0"/>
  <!-- N -->
  <path d="M 1919 911.4 L 1946 911.4 L 1946 962 C 1938 950 1928 935 1918 922 Q 1915 916 1919 911.4 Z"/>
  <path d="M 1924.7 962.5 Q 1935 965 1938 974.8 L 1946 1001 L 1946 1054.9 L 1921 1054.9 Q 1916 1054 1916.8 1049.6 Q 1921 1045 1921 1040.8 Z"/>
</g>
<g id="speckles" fill="#0c1b2e">
<circle cx="1513.9" cy="1014.7" r="1.3"/><circle cx="1514.5" cy="1009.6" r="1.0"/><circle cx="1502.1" cy="1010.0" r="1.1"/><circle cx="1528.9" cy="955.8" r="0.8"/><circle cx="1498.0" cy="1036.9" r="1.1"/><circle cx="1495.8" cy="1050.6" r="1.4"/><circle cx="1522.8" cy="1019.9" r="0.6"/><circle cx="1494.7" cy="1011.6" r="0.6"/><circle cx="1502.4" cy="979.2" r="0.5"/><circle cx="1514.4" cy="1002.7" r="1.3"/><circle cx="1516.8" cy="1022.2" r="0.9"/><circle cx="1523.1" cy="1004.4" r="0.8"/><circle cx="1537.9" cy="1051.7" r="1.3"/><circle cx="1525.1" cy="988.5" r="0.7"/><circle cx="1506.7" cy="950.8" r="1.2"/><circle cx="1511.6" cy="1039.9" r="0.8"/><circle cx="1536.2" cy="1040.0" r="0.5"/><circle cx="1503.2" cy="1045.0" r="0.9"/><circle cx="1537.1" cy="998.0" r="0.6"/><circle cx="1521.7" cy="1034.3" r="0.7"/><circle cx="1497.8" cy="990.6" r="1.4"/><circle cx="1527.4" cy="960.2" r="0.7"/><circle cx="1498.4" cy="948.5" r="1.2"/><circle cx="1501.8" cy="1014.6" r="0.9"/><circle cx="1502.4" cy="1030.3" r="0.6"/><circle cx="1522.3" cy="960.0" r="0.9"/><circle cx="1503.4" cy="982.9" r="1.4"/><circle cx="1529.4" cy="987.2" r="1.3"/><circle cx="1503.3" cy="997.7" r="1.3"/><circle cx="1522.2" cy="957.0" r="1.4"/><circle cx="1503.4" cy="981.4" r="1.2"/><circle cx="1508.5" cy="986.2" r="0.6"/><circle cx="1498.0" cy="1016.9" r="0.7"/><circle cx="1520.5" cy="995.1" r="0.9"/><circle cx="1536.2" cy="1007.1" r="1.0"/><circle cx="1532.1" cy="970.8" r="0.6"/><circle cx="1534.0" cy="1037.6" r="0.7"/><circle cx="1502.4" cy="1031.0" r="1.3"/><circle cx="1502.6" cy="1048.2" r="1.3"/><circle cx="1520.6" cy="1000.6" r="0.6"/><circle cx="1495.7" cy="1049.1" r="0.7"/><circle cx="1525.0" cy="981.2" r="1.2"/><circle cx="1520.2" cy="985.9" r="0.7"/><circle cx="1525.7" cy="950.5" r="0.7"/><circle cx="1518.6" cy="1040.4" r="1.1"/><circle cx="1506.3" cy="1045.6" r="0.7"/><circle cx="1494.7" cy="982.8" r="0.9"/><circle cx="1496.7" cy="969.8" r="0.8"/><circle cx="1519.2" cy="962.6" r="0.8"/><circle cx="1533.2" cy="1050.5" r="1.1"/><circle cx="1524.4" cy="1017.0" r="0.6"/><circle cx="1495.5" cy="936.4" r="1.3"/><circle cx="1524.8" cy="1049.1" r="0.5"/><circle cx="1522.0" cy="1007.0" r="1.2"/><circle cx="1508.0" cy="1052.0" r="0.6"/><circle cx="1518.0" cy="1030.8" r="1.3"/><circle cx="1526.4" cy="1027.9" r="1.2"/><circle cx="1534.3" cy="992.9" r="1.1"/><circle cx="1533.6" cy="1041.9" r="0.9"/><circle cx="1528.8" cy="1041.3" r="1.0"/><circle cx="1521.5" cy="996.3" r="1.0"/><circle cx="1520.8" cy="952.9" r="1.1"/><circle cx="1537.7" cy="1042.6" r="1.2"/><circle cx="1511.1" cy="1030.6" r="1.0"/><circle cx="1513.4" cy="1039.3" r="0.6"/><circle cx="1527.0" cy="940.4" r="1.0"/><circle cx="1515.2" cy="977.6" r="1.1"/><circle cx="1515.9" cy="1019.8" r="1.3"/><circle cx="1505.3" cy="933.6" r="0.8"/><circle cx="1523.8" cy="973.7" r="0.7"/><circle cx="1533.9" cy="1024.0" r="0.9"/><circle cx="1533.2" cy="989.9" r="1.1"/><circle cx="1502.7" cy="1001.6" r="1.2"/><circle cx="1534.2" cy="1042.6" r="0.8"/><circle cx="1519.7" cy="988.7" r="0.6"/><circle cx="1515.8" cy="1039.1" r="1.3"/><circle cx="1525.3" cy="1048.2" r="0.7"/><circle cx="1501.4" cy="1003.7" r="0.7"/><circle cx="1503.4" cy="999.8" r="1.1"/><circle cx="1515.7" cy="988.5" r="1.3"/><circle cx="1537.2" cy="1003.9" r="0.6"/><circle cx="1495.4" cy="1042.0" r="0.5"/><circle cx="1525.2" cy="1015.7" r="0.8"/><circle cx="1528.8" cy="936.8" r="0.6"/><circle cx="1514.0" cy="938.8" r="1.2"/><circle cx="1504.4" cy="964.2" r="0.5"/><circle cx="1521.7" cy="1003.3" r="1.1"/><circle cx="1522.8" cy="1036.7" r="1.4"/><circle cx="1524.1" cy="973.3" r="0.9"/><circle cx="1501.9" cy="933.4" r="0.9"/><circle cx="1525.4" cy="970.3" r="0.7"/><circle cx="1509.2" cy="1027.3" r="1.0"/><circle cx="1521.0" cy="1032.4" r="0.9"/><circle cx="1528.8" cy="1044.7" r="0.6"/><circle cx="1535.0" cy="1029.5" r="0.6"/><circle cx="1514.0" cy="1020.8" r="1.3"/><circle cx="1510.6" cy="1015.5" r="1.3"/><circle cx="1529.1" cy="1047.7" r="0.9"/><circle cx="1522.7" cy="974.1" r="1.1"/><circle cx="1530.0" cy="1022.3" r="1.1"/><circle cx="1503.4" cy="1044.2" r="1.4"/><circle cx="1537.0" cy="1012.5" r="1.2"/><circle cx="1508.1" cy="1045.0" r="1.3"/><circle cx="1509.3" cy="953.5" r="0.9"/><circle cx="1518.2" cy="1033.4" r="0.9"/><circle cx="1495.3" cy="1036.8" r="0.6"/><circle cx="1529.2" cy="969.3" r="0.8"/><circle cx="1528.7" cy="964.1" r="0.6"/><circle cx="1516.7" cy="1029.6" r="1.3"/><circle cx="1524.3" cy="1047.8" r="0.9"/><circle cx="1535.8" cy="954.1" r="0.7"/><circle cx="1517.2" cy="985.4" r="1.2"/><circle cx="1522.1" cy="1011.1" r="1.3"/><circle cx="1518.6" cy="988.1" r="0.8"/><circle cx="1531.2" cy="1044.3" r="0.7"/><circle cx="1531.4" cy="1049.6" r="1.0"/><circle cx="1519.2" cy="973.5" r="1.0"/><circle cx="1516.1" cy="1019.0" r="0.5"/><circle cx="1536.7" cy="1010.4" r="0.9"/><circle cx="1529.2" cy="1015.0" r="0.9"/><circle cx="1524.4" cy="949.8" r="1.0"/><circle cx="1512.2" cy="1048.7" r="1.3"/><circle cx="1505.8" cy="1006.1" r="0.6"/><circle cx="1513.1" cy="1037.4" r="1.3"/><circle cx="1515.0" cy="988.8" r="0.7"/><circle cx="1521.2" cy="1046.2" r="0.6"/><circle cx="1528.3" cy="938.1" r="0.7"/><circle cx="1504.0" cy="1026.4" r="0.8"/><circle cx="1509.6" cy="1020.3" r="0.6"/><circle cx="1526.2" cy="961.1" r="1.0"/><circle cx="1505.0" cy="973.0" r="1.0"/><circle cx="1513.2" cy="995.6" r="0.9"/><circle cx="1517.3" cy="967.3" r="0.7"/><circle cx="1521.8" cy="1022.0" r="1.0"/><circle cx="1531.5" cy="1019.6" r="1.3"/><circle cx="1504.2" cy="1031.1" r="1.2"/><circle cx="1533.7" cy="988.6" r="0.8"/><circle cx="1534.6" cy="975.9" r="1.4"/><circle cx="1533.1" cy="963.0" r="0.7"/><circle cx="1526.0" cy="981.5" r="0.6"/><circle cx="1530.6" cy="1000.6" r="1.2"/><circle cx="1499.5" cy="998.6" r="1.1"/><circle cx="1494.8" cy="973.5" r="1.1"/><circle cx="1534.1" cy="1049.6" r="0.6"/><circle cx="1516.2" cy="1032.6" r="1.0"/><circle cx="1524.2" cy="971.7" r="0.6"/><circle cx="1498.7" cy="942.7" r="1.0"/><circle cx="1516.7" cy="1015.5" r="0.6"/><circle cx="1502.1" cy="973.9" r="1.3"/><circle cx="1537.6" cy="1046.3" r="0.6"/><circle cx="1496.7" cy="1048.3" r="0.9"/><circle cx="1527.6" cy="989.9" r="0.9"/><circle cx="1516.7" cy="1001.5" r="1.0"/><circle cx="1494.6" cy="1027.6" r="1.3"/><circle cx="1502.0" cy="1004.1" r="1.2"/><circle cx="1511.8" cy="972.6" r="0.6"/><circle cx="1516.6" cy="935.4" r="1.3"/><circle cx="1529.3" cy="1027.9" r="1.3"/><circle cx="1521.7" cy="998.8" r="1.0"/><circle cx="1516.2" cy="1050.7" r="1.2"/><circle cx="1505.4" cy="1045.1" r="1.2"/><circle cx="1528.2" cy="1037.3" r="0.9"/><circle cx="1533.4" cy="1042.6" r="1.1"/><circle cx="1527.8" cy="1033.2" r="0.9"/><circle cx="1525.8" cy="950.9" r="0.8"/><circle cx="1514.6" cy="933.3" r="0.8"/><circle cx="1522.1" cy="1020.7" r="0.7"/><circle cx="1535.6" cy="1024.5" r="0.8"/><circle cx="1523.0" cy="1015.6" r="1.0"/><circle cx="1511.1" cy="1052.0" r="1.1"/><circle cx="1524.9" cy="1032.9" r="1.4"/><circle cx="1495.0" cy="1019.9" r="1.2"/><circle cx="1505.3" cy="998.5" r="0.5"/><circle cx="1502.6" cy="995.6" r="0.6"/><circle cx="1505.0" cy="1044.7" r="1.0"/><circle cx="1516.3" cy="1049.5" r="1.0"/><circle cx="1537.8" cy="1022.0" r="1.2"/><circle cx="1497.4" cy="1018.2" r="1.2"/><circle cx="1496.0" cy="1046.6" r="0.6"/><circle cx="1514.8" cy="968.7" r="0.9"/><circle cx="1520.9" cy="948.1" r="1.4"/><circle cx="1512.5" cy="1011.5" r="1.0"/><circle cx="1510.1" cy="984.9" r="1.1"/><circle cx="1518.7" cy="984.6" r="1.1"/><circle cx="1507.0" cy="934.8" r="0.7"/><circle cx="1495.9" cy="966.8" r="1.2"/><circle cx="1511.2" cy="1044.0" r="1.2"/><circle cx="1496.2" cy="1051.1" r="1.4"/><circle cx="1497.2" cy="1044.7" r="0.9"/><circle cx="1515.0" cy="1049.9" r="0.7"/><circle cx="1517.0" cy="1047.2" r="1.2"/><circle cx="1514.6" cy="1050.4" r="1.2"/><circle cx="1520.6" cy="959.7" r="1.1"/><circle cx="1514.1" cy="973.9" r="0.5"/><circle cx="1517.2" cy="961.4" r="0.9"/><circle cx="1523.4" cy="1004.2" r="0.7"/><circle cx="1519.6" cy="1000.4" r="1.2"/><circle cx="1517.4" cy="1051.8" r="1.4"/><circle cx="1526.3" cy="978.7" r="0.6"/><circle cx="1533.3" cy="1034.8" r="1.1"/><circle cx="1491.7" cy="1023.8" r="1.1"/><circle cx="1494.3" cy="1038.0" r="1.1"/><circle cx="1496.8" cy="1019.2" r="0.7"/><circle cx="1499.7" cy="1049.3" r="1.3"/><circle cx="1487.5" cy="1009.7" r="0.7"/><circle cx="1492.5" cy="1039.2" r="0.6"/><circle cx="1494.0" cy="1010.8" r="0.6"/><circle cx="1495.8" cy="1036.4" r="1.1"/><circle cx="1491.9" cy="1033.4" r="0.7"/><circle cx="1491.5" cy="1043.6" r="1.3"/><circle cx="1488.0" cy="1014.6" r="1.2"/><circle cx="1495.1" cy="1044.4" r="0.7"/><circle cx="1492.5" cy="1023.1" r="1.2"/><circle cx="1491.8" cy="1040.3" r="1.4"/><circle cx="1491.2" cy="1036.3" r="1.2"/><circle cx="1576.0" cy="938.0" r="0.8"/><circle cx="1555.4" cy="956.8" r="0.6"/><circle cx="1555.1" cy="943.7" r="0.9"/><circle cx="1570.1" cy="932.6" r="1.2"/><circle cx="1554.9" cy="929.0" r="1.1"/><circle cx="1555.0" cy="932.8" r="1.2"/><circle cx="1570.3" cy="931.9" r="0.6"/><circle cx="1561.9" cy="950.5" r="0.8"/><circle cx="1555.9" cy="949.8" r="1.0"/><circle cx="1576.0" cy="959.5" r="1.3"/><circle cx="1563.9" cy="953.7" r="0.8"/><circle cx="1560.9" cy="936.8" r="1.3"/><circle cx="1575.4" cy="930.4" r="0.8"/><circle cx="1562.1" cy="935.3" r="0.9"/><circle cx="1562.7" cy="928.2" r="1.0"/><circle cx="1572.9" cy="942.7" r="1.3"/><circle cx="1567.1" cy="927.4" r="1.2"/><circle cx="1575.0" cy="931.8" r="0.5"/><circle cx="1565.9" cy="942.9" r="1.0"/><circle cx="1577.2" cy="947.4" r="1.2"/><circle cx="1554.6" cy="943.0" r="1.2"/><circle cx="1555.1" cy="923.4" r="1.2"/><circle cx="1606.2" cy="1000.7" r="1.1"/><circle cx="1592.6" cy="1042.9" r="1.1"/><circle cx="1594.4" cy="1012.9" r="1.2"/><circle cx="1599.4" cy="1043.7" r="0.9"/><circle cx="1596.1" cy="1052.7" r="1.1"/><circle cx="1598.9" cy="1032.5" r="1.1"/><circle cx="1602.7" cy="1050.4" r="0.9"/><circle cx="1604.9" cy="1039.1" r="1.3"/><circle cx="1604.5" cy="1046.9" r="1.3"/><circle cx="1607.2" cy="1037.8" r="1.0"/><circle cx="1602.8" cy="1045.5" r="0.9"/><circle cx="1597.6" cy="1006.8" r="1.2"/><circle cx="1607.8" cy="1023.3" r="0.7"/><circle cx="1593.7" cy="1026.3" r="0.8"/><circle cx="1607.5" cy="997.7" r="0.8"/><circle cx="1592.1" cy="1038.2" r="1.2"/><circle cx="1593.2" cy="998.1" r="0.9"/><circle cx="1600.5" cy="1050.2" r="0.5"/><circle cx="1592.0" cy="1010.0" r="0.7"/><circle cx="1594.2" cy="1041.5" r="1.0"/><circle cx="1594.0" cy="1010.1" r="0.8"/><circle cx="1593.1" cy="1043.4" r="0.8"/><circle cx="1599.9" cy="1046.1" r="0.9"/><circle cx="1594.7" cy="1049.2" r="1.3"/><circle cx="1596.2" cy="1033.1" r="1.4"/><circle cx="1598.7" cy="1012.9" r="0.5"/><circle cx="1607.1" cy="1045.4" r="0.8"/><circle cx="1599.5" cy="1031.4" r="0.7"/><circle cx="1607.8" cy="1038.7" r="0.7"/><circle cx="1590.2" cy="1029.0" r="0.8"/><circle cx="1604.3" cy="1041.3" r="1.0"/><circle cx="1592.8" cy="1007.7" r="0.8"/><circle cx="1594.7" cy="1048.4" r="1.0"/><circle cx="1601.5" cy="1053.7" r="0.7"/><circle cx="1599.6" cy="1007.2" r="1.2"/><circle cx="1640.1" cy="1046.4" r="1.0"/><circle cx="1681.1" cy="1005.3" r="0.7"/><circle cx="1675.8" cy="1006.5" r="0.8"/><circle cx="1663.4" cy="1052.1" r="0.9"/><circle cx="1682.9" cy="1020.6" r="1.0"/><circle cx="1660.8" cy="1050.5" r="0.6"/><circle cx="1681.3" cy="1014.7" r="0.8"/><circle cx="1666.3" cy="1011.2" r="1.0"/><circle cx="1655.6" cy="1021.0" r="0.5"/><circle cx="1655.3" cy="1029.6" r="0.9"/><circle cx="1658.0" cy="1040.4" r="0.6"/><circle cx="1659.7" cy="1029.4" r="1.1"/><circle cx="1681.5" cy="1038.8" r="0.5"/><circle cx="1658.9" cy="1041.4" r="0.6"/><circle cx="1668.2" cy="1029.2" r="0.5"/><circle cx="1689.6" cy="1045.4" r="0.6"/><circle cx="1733.4" cy="1037.0" r="0.7"/><circle cx="1730.5" cy="1037.2" r="0.7"/><circle cx="1724.9" cy="1046.0" r="0.7"/><circle cx="1717.6" cy="1047.6" r="0.7"/><circle cx="1745.9" cy="1043.5" r="0.9"/><circle cx="1722.6" cy="1049.8" r="0.6"/><circle cx="1715.4" cy="1032.3" r="0.9"/><circle cx="1736.9" cy="1034.3" r="0.7"/><circle cx="1893.0" cy="1037.8" r="0.5"/><circle cx="1866.7" cy="1024.7" r="0.5"/><circle cx="1874.5" cy="1022.2" r="0.9"/><circle cx="1875.4" cy="1035.3" r="0.8"/><circle cx="1890.0" cy="1044.6" r="0.7"/><circle cx="1871.3" cy="1032.4" r="0.5"/>
</g>
<g id="tlines" stroke="#1e0a0e" fill="none" stroke-linecap="round">
  <path d="M 926 955 L 950 911" stroke-width="2.2"/>
  <path d="M 949 912 C 958 940 961 1000 954 1051" stroke-width="5"/>
  <path d="M 925 1023 L 952 1051" stroke-width="2.2"/>
  <path d="M 887 941 L 899 962" stroke-width="2"/>
</g>
<!-- LOOP FRONT (side bars) -->
<g id="loopfront">
  <path d="M 1608 846 L 1628 846 L 1628.5 1108 L 1610.5 1108 Z" fill="#1f1f1f"/>
  <path d="M 1611 846 L 1614 846 L 1615 1106 L 1613 1106 Z" fill="#2a2a2a"/>
  <path d="M 1746.5 846 L 1768 846 L 1770 1108 L 1749 1108 Z" fill="#1f1f1f"/>
  <path d="M 1762 846 L 1765 846 L 1767 1106 L 1764 1106 Z" fill="#2a2a2a"/>
</g>
<!-- D-RING -->
<defs>
  <clipPath id="ringclip2">
    <path d="M 700 700 L 1100 700 L 1100 1250 L 700 1250 Z M 700 845.5 L 700 1116.5 L 862 1116.5 L 862 845.5 Z" clip-rule="evenodd"/>
  </clipPath>
  <linearGradient id="rimgrad" gradientUnits="userSpaceOnUse" x1="0" y1="1030" x2="0" y2="1095">
    <stop offset="0" stop-color="#2e2e2e" stop-opacity="0"/><stop offset="1" stop-color="#2e2e2e" stop-opacity="0.85"/>
  </linearGradient>
  <linearGradient id="rimgrad2" gradientUnits="userSpaceOnUse" x1="0" y1="1030" x2="0" y2="1095">
    <stop offset="0" stop-color="#f2f2f2" stop-opacity="0"/><stop offset="1" stop-color="#f2f2f2" stop-opacity="0.9"/>
  </linearGradient>
  <clipPath id="ringclip3">
    <path d="M 700 700 L 1100 700 L 1100 845.5 L 700 845.5 Z M 700 1116.5 L 1100 1116.5 L 1100 1250 L 700 1250 Z"/>
  </clipPath>
</defs>
<g id="dring" clip-path="url(#ringclip2)">
  <g clip-path="url(#ringclip3)"><path d="M 778.0 870.0 C 779.5 865.4 782.5 848.7 787.0 842.5 C 791.5 836.3 795.3 835.9 805.0 833.0 C 814.7 830.1 831.5 825.2 845.0 825.0 C 858.5 824.8 873.2 826.5 886.0 832.0 C 898.8 837.5 911.3 848.3 922.0 858.0 C 932.7 867.7 941.8 876.3 950.0 890.0 C 958.2 903.7 966.5 924.2 971.0 940.0 C 975.5 955.8 977.2 970.0 977.0 985.0 C 976.8 1000.0 973.7 1017.0 970.0 1030.0 C 966.3 1043.0 961.8 1053.0 955.0 1063.0 C 948.2 1073.0 940.2 1080.8 929.0 1090.0 C 917.8 1099.2 901.2 1111.8 888.0 1118.0 C 874.8 1124.2 862.2 1125.3 850.0 1127.0 C 837.8 1128.7 824.4 1128.8 815.0 1128.0 C 805.6 1127.2 800.1 1126.7 793.6 1122.0 C 787.1 1117.3 778.9 1103.7 776.0 1100.0 Z" fill="#1a1a1a"/></g>
  <path d="M 792 846 C 808 836 830 833 855 834 C 880 835 900 840 912 846 Z" fill="#5a5a5a" opacity="0.55"/>
  <path d="M 790 1116 C 806 1124 830 1126 855 1125 C 880 1124 898 1120 910 1116 Z" fill="#5a5a5a" opacity="0.55"/>
  <path d="M 766.0 870.0 C 767.5 864.5 769.5 846.3 774.8 837.0 C 780.1 827.7 787.0 819.7 798.0 814.0 C 809.0 808.3 824.7 803.2 840.8 802.8 C 856.9 802.4 878.1 805.3 894.6 811.5 C 911.1 817.7 927.1 828.6 940.0 840.0 C 952.9 851.4 962.8 864.2 972.0 880.0 C 981.2 895.8 989.9 917.5 995.0 935.0 C 1000.1 952.5 1002.2 968.3 1002.5 985.0 C 1002.8 1001.7 1000.4 1020.0 997.0 1035.0 C 993.6 1050.0 989.0 1062.5 982.0 1075.0 C 975.0 1087.5 966.7 1099.7 955.0 1110.0 C 943.3 1120.3 926.5 1130.6 912.0 1137.0 C 897.5 1143.4 883.9 1147.1 867.7 1148.4 C 851.5 1149.7 829.5 1148.1 815.0 1145.0 C 800.5 1141.9 789.2 1137.5 781.0 1130.0 C 772.8 1122.5 768.5 1105.0 766.0 1100.0 L 776.0 1100.0 C 778.9 1103.7 787.1 1117.3 793.6 1122.0 C 800.1 1126.7 805.6 1127.2 815.0 1128.0 C 824.4 1128.8 837.8 1128.7 850.0 1127.0 C 862.2 1125.3 874.8 1124.2 888.0 1118.0 C 901.2 1111.8 917.8 1099.2 929.0 1090.0 C 940.2 1080.8 948.2 1073.0 955.0 1063.0 C 961.8 1053.0 966.3 1043.0 970.0 1030.0 C 973.7 1017.0 976.8 1000.0 977.0 985.0 C 977.2 970.0 975.5 955.8 971.0 940.0 C 966.5 924.2 958.2 903.7 950.0 890.0 C 941.8 876.3 932.7 867.7 922.0 858.0 C 911.3 848.3 898.8 837.5 886.0 832.0 C 873.2 826.5 858.5 824.8 845.0 825.0 C 831.5 825.2 814.7 830.1 805.0 833.0 C 795.3 835.9 791.5 836.3 787.0 842.5 C 782.5 848.7 779.5 865.4 778.0 870.0 Z" fill="#bab6af"/>
  <path d="M 766.5 870.0 C 767.9 864.5 770.0 846.4 775.3 837.2 C 780.6 828.0 787.3 820.3 798.3 814.8 C 809.2 809.2 825.0 804.1 841.0 803.7 C 857.0 803.3 877.9 806.1 894.3 812.3 C 910.6 818.5 926.5 829.4 939.3 840.7 C 952.1 852.1 962.0 864.7 971.1 880.4 C 980.2 896.1 989.0 917.8 994.0 935.2 C 999.1 952.6 1001.2 968.4 1001.5 985.0 C 1001.8 1001.6 999.3 1019.9 995.9 1034.8 C 992.5 1049.7 987.9 1062.1 980.9 1074.5 C 973.9 1086.9 965.6 1098.9 954.0 1109.2 C 942.3 1119.5 925.5 1129.8 911.0 1136.2 C 896.5 1142.6 883.0 1146.2 867.0 1147.5 C 851.0 1148.9 829.2 1147.3 815.0 1144.3 C 800.8 1141.3 789.6 1137.1 781.5 1129.7 C 773.4 1122.3 768.9 1104.9 766.4 1100.0" fill="none" stroke="#8d8a84" stroke-width="2.5"/>
  <path d="M 771.4 870.0 C 772.9 864.9 775.3 847.4 780.3 839.5 C 785.2 831.6 790.8 827.0 801.2 822.6 C 811.6 818.1 827.8 813.1 842.7 812.8 C 857.6 812.5 875.9 814.8 890.7 820.7 C 905.6 826.6 920.0 837.5 931.9 848.1 C 943.8 858.7 953.4 869.6 962.1 884.5 C 970.8 899.4 979.4 920.5 984.2 937.2 C 989.0 954.0 990.9 969.1 991.0 985.0 C 991.1 1000.9 988.4 1018.6 984.9 1032.8 C 981.3 1046.8 976.8 1058.2 969.9 1069.6 C 962.9 1081.0 954.7 1091.2 943.3 1101.0 C 931.9 1110.8 915.1 1122.2 901.2 1128.5 C 887.3 1134.7 874.1 1137.3 859.7 1138.8 C 845.4 1140.3 827.2 1139.4 815.0 1137.3 C 802.8 1135.3 794.1 1132.6 786.7 1126.4 C 779.3 1120.2 773.2 1104.4 770.5 1100.0" fill="none" stroke="#cfcbc4" stroke-width="6"/>
  <path d="M 773.4 870.0 C 774.9 865.1 777.5 847.8 782.4 840.4 C 787.2 833.0 792.2 829.8 802.3 825.8 C 812.5 821.8 828.9 816.8 843.4 816.6 C 857.9 816.3 875.0 818.4 889.3 824.2 C 903.5 830.0 917.3 840.8 928.8 851.2 C 940.4 861.5 949.8 871.7 958.4 886.2 C 966.9 900.7 975.4 921.6 980.1 938.1 C 984.8 954.6 986.7 969.4 986.7 985.0 C 986.7 1000.6 983.8 1018.1 980.3 1031.9 C 976.7 1045.7 972.2 1056.6 965.3 1067.6 C 958.4 1078.5 950.2 1088.0 938.9 1097.6 C 927.5 1107.2 910.8 1119.0 897.1 1125.2 C 883.4 1131.5 870.4 1133.6 856.7 1135.1 C 843.0 1136.7 826.3 1136.1 815.0 1134.5 C 803.7 1132.8 795.9 1130.8 788.8 1125.0 C 781.7 1119.3 775.0 1104.2 772.2 1100.0" fill="none" stroke="#f6f6f6" stroke-width="4"/>
  <path d="M 775.6 870.0 C 777.1 865.2 779.9 848.2 784.6 841.4 C 789.2 834.6 793.7 832.7 803.6 829.2 C 813.5 825.7 830.1 820.8 844.2 820.6 C 858.2 820.3 874.1 822.3 887.7 827.9 C 901.3 833.5 914.5 844.4 925.6 854.4 C 936.7 864.4 946.0 873.9 954.4 888.0 C 962.8 902.1 971.2 922.8 975.8 939.0 C 980.4 955.2 982.2 969.7 982.1 985.0 C 982.0 1000.3 979.0 1017.6 975.4 1031.0 C 971.8 1044.4 967.3 1054.9 960.4 1065.4 C 953.5 1075.9 945.5 1084.6 934.2 1094.0 C 922.9 1103.4 906.2 1115.6 892.8 1121.8 C 879.4 1128.0 866.5 1129.7 853.5 1131.3 C 840.6 1132.9 825.4 1132.7 815.0 1131.4 C 804.6 1130.1 797.9 1128.8 791.1 1123.6 C 784.2 1118.4 776.8 1103.9 774.0 1100.0" fill="none" stroke="#8b8781" stroke-width="4.5"/>
  <path d="M 995.1 1034.6 C 992.6 1041.2 987.1 1061.8 980.1 1074.2 C 973.1 1086.5 964.8 1098.3 953.2 1108.6 C 941.5 1118.9 924.8 1129.3 910.3 1135.7 C 895.9 1142.1 882.3 1145.5 866.5 1146.9 C 850.6 1148.3 829.1 1146.7 815.0 1143.8 C 800.9 1140.9 789.9 1136.7 781.9 1129.4 C 773.8 1122.1 769.2 1104.9 766.7 1100.0" fill="none" stroke="url(#rimgrad)" stroke-width="4"/>
  <path d="M 991.1 1033.9 C 988.6 1040.3 983.0 1060.4 976.1 1072.4 C 969.1 1084.3 960.8 1095.5 949.3 1105.6 C 937.7 1115.7 921.0 1126.5 906.7 1132.8 C 892.5 1139.2 879.1 1142.3 863.8 1143.7 C 848.5 1145.1 828.3 1143.8 815.0 1141.3 C 801.7 1138.7 791.6 1135.1 783.8 1128.2 C 776.0 1121.4 770.8 1104.7 768.2 1100.0" fill="none" stroke="url(#rimgrad2)" stroke-width="2.2"/>
  <path d="M 777.4 870.0 C 778.9 865.4 781.8 848.6 786.4 842.2 C 790.9 835.9 794.9 835.1 804.7 832.0 C 814.4 829.0 831.2 824.1 844.8 823.9 C 858.4 823.7 873.4 825.4 886.4 831.0 C 899.4 836.5 912.1 847.3 922.9 857.1 C 933.7 866.9 942.9 875.7 951.1 889.5 C 959.3 903.3 967.7 923.8 972.2 939.8 C 976.7 955.7 978.4 969.9 978.3 985.0 C 978.1 1000.1 975.0 1017.1 971.4 1030.2 C 967.7 1043.3 963.2 1053.5 956.4 1063.6 C 949.5 1073.7 941.5 1081.8 930.3 1091.0 C 919.1 1100.2 902.4 1112.8 889.2 1119.0 C 876.0 1125.1 863.3 1126.4 850.9 1128.1 C 838.5 1129.7 824.7 1129.8 815.0 1128.8 C 805.3 1127.9 799.6 1127.2 793.0 1122.4 C 786.4 1117.6 778.4 1103.7 775.5 1100.0" fill="none" stroke="#3a3a3a" stroke-width="2.5"/>
</g>
<!-- TEXT -->
<g font-family="Liberation Sans, sans-serif" font-weight="bold" font-size="103" fill="#053a5d" stroke="#053a5d" stroke-width="2.6" stroke-linejoin="round">
<text transform="translate(749.75 280.50) scale(0.8199 1)">C</text>
<text transform="translate(814.11 280.50) scale(0.9439 1)">H</text>
<text transform="translate(889.92 280.50) scale(0.7971 1)">R</text>
<text transform="translate(953.77 280.50) scale(0.9195 1)">O</text>
<text transform="translate(1028.68 280.50) scale(1.0756 1)">M</text>
<text transform="translate(1122.77 280.50) scale(0.7686 1)">E</text>
<text transform="translate(1201.09 280.50) scale(0.9833 1)">D</text>
<text transform="translate(1276.94 252.50) scale(0.9828 0.7400) translate(0 26.75)">-</text>
<text transform="translate(1314.99 280.50) scale(0.7839 1)">R</text>
<text transform="translate(1378.04 280.50) scale(0.9014 1)">I</text>
<text transform="translate(1408.50 280.50) scale(0.9644 1)">N</text>
<text transform="translate(1481.94 280.50) scale(0.8952 1)">G</text>
</g>
<g font-family="Liberation Sans, sans-serif" font-weight="bold" font-size="54" fill="#0870a6" stroke="#0870a6" stroke-width="2.2" stroke-linejoin="round">
<text transform="translate(754.63 360.50) scale(0.8559 1)">T</text>
<text transform="translate(784.27 360.50) scale(0.9350 1)">O</text>
<text transform="translate(835.78 360.50) scale(0.8935 1)">A</text>
<text transform="translate(868.92 360.50) scale(0.8441 1)">T</text>
<text transform="translate(900.52 360.50) scale(0.8441 1)">T</text>
<text transform="translate(927.68 360.50) scale(0.8935 1)">A</text>
<text transform="translate(964.41 360.50) scale(0.7894 1)">C</text>
<text transform="translate(997.38 360.50) scale(0.9294 1)">H</text>
<text transform="translate(1047.58 360.50) scale(0.7667 1)">L</text>
<text transform="translate(1076.71 360.50) scale(0.7969 1)">E</text>
<text transform="translate(1106.77 360.50) scale(0.9013 1)">A</text>
<text transform="translate(1145.62 360.50) scale(0.7594 1)">S</text>
<text transform="translate(1176.38 360.50) scale(0.9265 1)">H</text>
<text transform="translate(1226.27 360.50) scale(0.9039 1)">A</text>
<text transform="translate(1265.64 360.50) scale(0.8647 1)">N</text>
<text transform="translate(1303.53 360.50) scale(0.9493 1)">D</text>
<text transform="translate(1350.85 360.50) scale(0.8971 1)">T</text>
<text transform="translate(1378.47 360.50) scale(0.9325 1)">A</text>
<text transform="translate(1414.78 360.50) scale(0.9179 1)">G</text>
<text transform="translate(1454.41 360.50) scale(0.7884 1)">S</text>
</g>
<g font-family="Liberation Sans, sans-serif" font-weight="bold" font-size="103" fill="#053a5d" stroke="#053a5d" stroke-width="2.6" stroke-linejoin="round">
<text transform="translate(539.42 1563.50) scale(0.9423 1)">N</text>
<text transform="translate(613.84 1563.50) scale(0.9302 1)">O</text>
<text transform="translate(692.18 1563.50) scale(0.9486 1)">N</text>
<text transform="translate(764.79 1535.50) scale(0.9621 0.7400) translate(0 26.75)">-</text>
<text transform="translate(802.54 1563.50) scale(0.7721 1)">S</text>
<text transform="translate(860.06 1563.50) scale(0.8072 1)">L</text>
<text transform="translate(915.50 1563.50) scale(0.8901 1)">I</text>
<text transform="translate(943.04 1563.50) scale(0.9016 1)">P</text>
<text transform="translate(1028.69 1563.50) scale(1.0742 1)">M</text>
<text transform="translate(1122.80 1563.50) scale(0.7636 1)">E</text>
<text transform="translate(1180.72 1563.50) scale(0.8819 1)">T</text>
<text transform="translate(1231.36 1563.50) scale(0.9129 1)">A</text>
<text transform="translate(1303.76 1563.50) scale(0.8072 1)">L</text>
<text transform="translate(1380.46 1563.50) scale(0.8072 1)">L</text>
<text transform="translate(1430.94 1563.50) scale(0.9302 1)">O</text>
<text transform="translate(1508.84 1563.50) scale(0.9302 1)">O</text>
<text transform="translate(1586.92 1563.50) scale(0.8508 1)">P</text>
</g>
<g font-family="Liberation Sans, sans-serif" font-weight="bold" font-size="54" fill="#0870a6" stroke="#0870a6" stroke-width="2.2" stroke-linejoin="round">
<text transform="translate(538.73 1649.50) scale(0.8529 1)">T</text>
<text transform="translate(567.95 1649.50) scale(0.9525 1)">O</text>
<text transform="translate(619.94 1649.50) scale(0.7847 1)">E</text>
<text transform="translate(649.87 1649.50) scale(0.9039 1)">A</text>
<text transform="translate(688.63 1649.50) scale(0.7449 1)">S</text>
<text transform="translate(719.62 1649.50) scale(0.9900 1)">I</text>
<text transform="translate(736.70 1649.50) scale(0.8000 1)">L</text>
<text transform="translate(759.63 1649.50) scale(0.9315 1)">Y</text>
<text transform="translate(805.88 1649.50) scale(0.8987 1)">A</text>
<text transform="translate(843.62 1649.50) scale(0.9521 1)">D</text>
<text transform="translate(881.67 1649.50) scale(0.6883 1)">J</text>
<text transform="translate(907.41 1649.50) scale(0.8943 1)">U</text>
<text transform="translate(945.30 1649.50) scale(0.8029 1)">S</text>
<text transform="translate(977.32 1649.50) scale(0.8412 1)">T</text>
<text transform="translate(1019.81 1649.50) scale(0.7797 1)">S</text>
<text transform="translate(1052.53 1649.50) scale(0.9500 1)">I</text>
<text transform="translate(1067.46 1649.50) scale(0.8868 1)">Z</text>
<text transform="translate(1099.85 1649.50) scale(0.7420 1)">E</text>
</g>
<!-- CALLOUTS -->
<g fill="#2c2c2c" stroke="#2c2c2c">
  <line x1="683" y1="255" x2="683" y2="773" stroke-width="4"/>
  <line x1="682" y1="778" x2="845" y2="778" stroke-width="4"/>
  <circle cx="682" cy="255" r="17.5" stroke="none"/>
  <circle cx="682" cy="773.5" r="17.5" stroke="none"/>
  <circle cx="844.5" cy="772.5" r="17.5" stroke="none"/>
  <line x1="1665" y1="1187" x2="1665" y2="1438" stroke-width="4"/>
  <line x1="1082" y1="1441" x2="1661" y2="1440" stroke-width="4"/>
  <circle cx="1663.5" cy="1186.7" r="17.5" stroke="none"/>
  <circle cx="1660.8" cy="1438.7" r="17.5" stroke="none"/>
  <circle cx="1081.8" cy="1442.3" r="17.5" stroke="none"/>
</g>
</svg>
</body>
</html>
